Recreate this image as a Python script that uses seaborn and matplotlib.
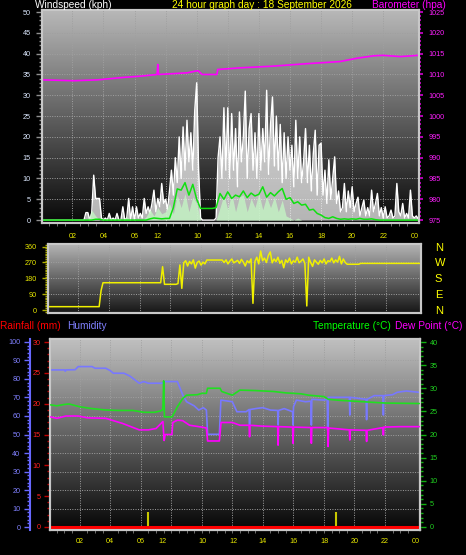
import numpy as np
import matplotlib
matplotlib.use("Agg")
import matplotlib.pyplot as plt
from matplotlib.colors import LinearSegmentedColormap
from matplotlib.ticker import MultipleLocator
import seaborn as sns

# time grids (hours): 7.5 min for the fast series, 15 min for the slower ones
t8 = np.arange(0, 24.26, 0.125)
t4 = np.arange(0, 24.26, 0.25)

# wind gust (kph), 8 readings per hour
gust = ([0, 0, 0, 0, 0, 0, 0, 0]
        + [0, 0, 0, 0, 0, 0, 0, 0]
        + [0, 0, 0, 0, 0, 0, 0, 1.8]
        + [1.8, 0, 1.8, 10.8, 5.2, 5.2, 5.2, 0.5]
        + [0, 0.5, 0, 1.6, 0, 0.5, 0, 1.6]
        + [0, 0, 3.2, 0, 0.5, 5.2, 0, 3.2]
        + [0, 3.2, 0.5, 1.6, 0.5, 5.2, 1.6, 3.2]
        + [1.6, 4.0, 7.2, 2.0, 5.2, 3.2, 8.8, 4.0]
        + [5.0, 2.5, 7.0, 12.0, 6.0, 15.0, 9.0, 20.0]
        + [10, 22.4, 12, 24, 14, 21, 12, 26.4]
        + [33, 12, 0.5, 0, 0, 0, 0, 0]
        + [0, 0, 0.5, 15, 20, 10, 27, 12]
        + [27, 10, 25.6, 12, 22, 8, 26, 14]
        + [20, 31, 10, 22, 25.6, 12, 21, 10]
        + [25.6, 12, 22, 14, 31.2, 11, 23, 29.6]
        + [13, 25, 12, 23, 9, 21, 10, 20]
        + [12, 18, 8, 24, 10, 20, 9, 14]
        + [22, 9, 18, 7, 16, 21.6, 6, 18]
        + [18.5, 6, 12, 4, 14.5, 5, 10, 15.2]
        + [4, 7, 2, 3, 8.8, 2, 7, 3]
        + [8, 2, 4, 5.5, 1, 3, 4.8, 1]
        + [3, 1, 7.2, 2, 4, 6.4, 1, 3]
        + [0.5, 3.2, 0.5, 1, 2.4, 0.5, 1, 8.8]
        + [2, 1, 4, 0.5, 1.6, 0.5, 7.2, 1]
        + [0.5, 1.0, 0.3])

# wind speed (kph), 4 readings per hour
speed = ([0] * 12
         + [0, 2.4, 1.0, 0]
         + [0, 0, 0, 0]
         + [0, 0, 0.8, 0]
         + [0, 0, 0, 0.8]
         + [2.5, 1.0, 3.0, 1.5]
         + [2.0, 4.0, 1.5, 6.0]
         + [3.0, 6.4, 2.0, 5.6]
         + [4.0, 0, 0, 0]
         + [0, 0, 3.0, 6.0]
         + [2.5, 6.4, 2.0, 5.6]
         + [6.0, 2.0, 5.2, 3.0]
         + [6.4, 2.5, 5.6, 3.0]
         + [5.6, 2.0, 4.8, 1.0]
         + [0.5, 0, 0.5, 0]
         + [0] * 28
         + [0, 0])

# average wind speed (kph), 4 readings per hour
avg_wind = ([0] * 12
            + [0, 0, 0.2, 0.2]
            + [0] * 12
            + [0.3, 0.5, 0.4, 0.3]
            + [0.4, 0.4, 3.0, 7.5]
            + [7.2, 9.0, 6.0, 8.6]
            + [5.0, 2.8, 2.8, 2.8]
            + [2.8, 3.0, 6.4, 5.0]
            + [6.8, 5.2, 6.0, 5.6]
            + [7.0, 5.4, 6.5, 5.8]
            + [6.2, 8.0, 5.5, 6.6]
            + [5.8, 6.8, 7.6, 5.0]
            + [5.4, 4.0, 4.4, 3.6]
            + [3.8, 2.4, 2.6, 1.6]
            + [1.2, 0.6, 0.4, 0.8]
            + [0.4, 0.2, 0.3, 0.2]
            + [0.3, 0.2, 0.4, 0.2]
            + [0.2, 0.3, 0.1, 0]
            + [0] * 8
            + [0, 0])

# barometer (hPa)
baro_hours = [0.15, 2.1, 3.6, 5.3, 6.4, 7.45, 7.5, 7.55, 9.4, 9.9, 10.1, 10.35,
              11.3, 11.35, 12.8, 14.9, 17.1, 19.2, 20.3, 21.4, 22.0, 23.1, 24.25]
baro = [1008.7, 1008.5, 1008.7, 1009.3, 1009.6, 1010.0, 1012.4, 1010.0, 1010.4,
        1010.8, 1010.9, 1010.0, 1010.0, 1011.2, 1011.6, 1012.0, 1012.6, 1013.1,
        1013.9, 1014.5, 1014.6, 1014.3, 1014.6]

# wind direction (degrees), 8 readings per hour
wind_dir = ([19] * 28 + [110, 155] + [155] * 30 + [246] + [146] * 7
            + [150, 256, 123]
            + [268, 280, 250, 276, 262, 285, 238, 270, 278, 255, 272, 262]
            + [284] * 9
            + [270, 285, 262, 278, 290, 268, 275, 282]
            + [265, 288, 272, 250, 280, 268, 290, 38]
            + [275, 300, 262, 335, 280, 295, 270, 310]
            + [330, 268, 290, 275, 300, 265, 282, 240]
            + [285, 270, 295, 262, 280, 272, 300, 268]
            + [278, 290, 265, 23, 300, 270, 248, 285]
            + [272, 260, 282, 268, 290, 262, 280, 275]
            + [295, 268, 285, 272, 305, 262, 290, 270]
            + [260] * 7 + [265] * 32)

# humidity (%)
hum_hours = [0.1, 1.0, 1.05, 1.1, 1.7, 1.9, 2.8, 3.0, 3.7, 4.0,
             4.2, 4.9, 5.3, 5.9, 6.2, 6.5, 7.45, 7.5, 8.4, 8.75,
             9.0, 9.5, 9.8, 10.1, 10.3, 10.38, 11.15, 11.25, 12.0, 12.3,
             12.9, 13.1, 13.13, 13.16, 13.6, 14.0, 14.5, 14.97, 15.0, 15.03,
             15.4, 15.95, 15.98, 16.01, 16.2, 16.8, 17.15, 17.18, 17.21, 18.0,
             18.22, 18.25, 18.28, 19.2, 19.67, 19.7, 19.73, 20.3, 20.77, 20.8,
             20.83, 21.3, 21.87, 21.9, 21.93, 22.5, 22.8, 23.4, 24.25]
humidity = [84.9, 84.9, 84.2, 84.9, 85.0, 86.7, 86.7, 85.8, 85.8, 84.5,
            83.1, 83.1, 81.5, 77.7, 78.6, 77.7, 77.7, 78.6, 78.6, 71.4,
            67.7, 65.5, 63.2, 64.5, 63.2, 50.1, 50.1, 68.6, 67.7, 62.3,
            62.3, 63.5, 55.1, 63.5, 64.1, 64.5, 63.2, 63.0, 55.1, 63.0,
            64.0, 62.3, 55.1, 65.0, 68.6, 67.7, 68.0, 55.1, 69.0, 68.6,
            69.0, 52.4, 70.1, 70.1, 70.1, 60.5, 70.1, 69.5, 69.0, 58.0,
            69.0, 71.0, 71.0, 60.5, 71.0, 71.5, 72.8, 73.5, 72.8]

# temperature (C)
temp_hours = [0.1, 0.5, 1.0, 1.3, 2.0, 2.8, 3.7, 4.5, 5.5, 6.2,
              6.9, 7.3, 7.45, 7.5, 7.55, 8.05, 8.4, 8.75, 9.0, 9.7,
              10.0, 10.3, 10.38, 11.2, 11.3, 12.0, 12.5, 13.5, 14.7, 15.5,
              16.5, 17.0, 18.0, 18.3, 19.0, 20.0, 21.0, 22.0, 24.25]
temperature = [26.4, 26.2, 26.5, 26.6, 26.0, 25.6, 25.3, 25.2, 25.2, 24.8,
               24.8, 25.1, 25.4, 31.6, 23.8, 23.8, 26.0, 27.8, 28.5, 28.6,
               28.9, 28.9, 30.0, 30.0, 29.3, 28.5, 29.6, 29.5, 29.3, 29.0,
               28.8, 28.5, 28.2, 27.6, 27.4, 27.2, 27.0, 26.8, 26.7]

# dew point (C)
dew_hours = [0.1, 0.5, 1.1, 1.9, 2.5, 3.7, 4.8, 5.9, 6.5, 7.0,
             7.45, 7.53, 7.6, 8.04, 8.1, 8.4, 8.74, 9.2, 10.0, 10.3,
             10.38, 11.15, 11.26, 12.0, 12.5, 13.1, 13.13, 13.16, 14.0, 14.97,
             15.0, 15.03, 15.95, 15.98, 16.01, 17.15, 17.18, 17.21, 18.25, 18.28,
             18.31, 19.0, 19.67, 19.7, 19.73, 20.77, 20.8, 20.83, 21.87, 21.9,
             21.93, 23.0, 24.25]
dewpoint = [23.8, 23.5, 24.0, 24.0, 23.6, 23.5, 22.4, 21.0, 21.0, 21.3,
            22.8, 18.7, 20.0, 20.0, 22.6, 23.1, 23.0, 22.0, 21.6, 21.4,
            18.6, 18.6, 22.6, 22.6, 22.0, 22.0, 19.5, 22.0, 21.8, 21.7,
            17.7, 21.7, 21.6, 18.1, 21.6, 21.5, 18.1, 21.5, 21.5, 17.4,
            21.4, 21.2, 21.0, 18.8, 21.0, 20.9, 18.5, 20.9, 21.5, 19.9,
            21.6, 21.7, 21.7]

# rainfall (mm) and rain rate bars
rain_hours = [0.0, 24.25]
rain_mm = [0.0, 0.0]
rate_hours = [6.48, 18.8]
rain_rate = [2.4, 2.4]

x_label_pos = [2, 4, 6, 7.45, 10.05, 12.05, 14, 16, 18.05, 20, 22, 24]
x_labels = ['02', '04', '06', '12', '10', '12', '14', '16', '18', '20', '22', '00']
grid_hours = [2, 4, 6, 8, 10, 12, 14, 16, 18, 20, 22]

sns.set_style("dark", {"axes.facecolor": "black", "figure.facecolor": "black"})
plt.rcParams['font.family'] = ['Liberation Sans', 'DejaVu Sans']

W, H = 466, 555
fig = plt.figure(figsize=(W / 100, H / 100), dpi=100, facecolor='black')


def panel(l, t, r, b):
    return fig.add_axes([l / W, 1 - b / H, (r - l) / W, (b - t) / H])


def dress(ax, top_col, bottom_col, ygrid):
    cmap = LinearSegmentedColormap.from_list('shade', [bottom_col, top_col])
    grad = np.linspace(0, 1, 256).reshape(-1, 1)
    ax.imshow(grad, extent=[0, 1, 0, 1], transform=ax.transAxes, origin='lower',
              aspect='auto', cmap=cmap, zorder=0)
    for s in ax.spines.values():
        s.set_color('#c8c8c8')
        s.set_linewidth(1.5)
    for h in grid_hours:
        ax.axvline(h, color='#a0a0a0', ls=(0, (1, 1.5)), lw=0.7, zorder=1)
    for y in ygrid:
        ax.axhline(y, color='#a0a0a0', ls=(0, (1, 1.5)), lw=0.7, zorder=1)


def light_spines(ax):
    for s in ax.spines.values():
        s.set_color('#c8c8c8')
        s.set_linewidth(1.5)


XLIM = (0.05, 24.3)

# ---------------- top panel: wind + barometer ----------------
ax = panel(42, 10, 419, 223)
dress(ax, '#b8b8b8', '#080808', range(5, 50, 5))
ax.fill_between(t8, gust, color='white', alpha=0.7, lw=0, zorder=2)
sns.lineplot(x=t8, y=gust, ax=ax, color='white', linewidth=1.0, zorder=3)
ax.fill_between(t4, speed, color='#c4f5c4', alpha=0.8, lw=0, zorder=4)
sns.lineplot(x=t4, y=avg_wind, ax=ax, color='#10e010', linewidth=1.1, zorder=5)
ax.set_xlim(*XLIM)
ax.set_ylim(-0.7, 50.5)
ax.set_xlabel('')
ax.set_ylabel('')
ax.yaxis.set_major_locator(MultipleLocator(5))
ax.yaxis.set_minor_locator(MultipleLocator(1))
ax.tick_params(axis='y', which='both', left=True, colors='#909090',
               labelcolor='#dce8ff', labelsize=5.2, pad=4)
ax.tick_params(axis='y', which='major', length=4, width=1)
ax.tick_params(axis='y', which='minor', length=2, width=1)
ax.set_xticks(x_label_pos)
ax.set_xticklabels(x_labels)
ax.xaxis.set_minor_locator(MultipleLocator(0.5))
ax.tick_params(axis='x', which='major', bottom=True, length=0, pad=7.5,
               labelcolor='#e8e800', labelsize=5.2)
ax.tick_params(axis='x', which='minor', bottom=True, length=2, color='#808080')

axb = ax.twinx()
light_spines(axb)
sns.lineplot(x=baro_hours, y=baro, ax=axb, color='#ff00ff', linewidth=1.2)
axb.set_ylim(974.3, 1025.5)
axb.set_xlim(*XLIM)
axb.set_ylabel('')
axb.yaxis.set_major_locator(MultipleLocator(5))
axb.yaxis.set_minor_locator(MultipleLocator(1))
axb.tick_params(axis='y', which='both', right=True, colors='#d000d0',
                labelcolor='#ff20ff', labelsize=5.2, pad=4)
axb.tick_params(axis='y', which='major', length=3, width=1.2)
axb.tick_params(axis='y', which='minor', length=1.5, width=1.2)

fig.text(35 / W, 1 - 5 / H, 'Windspeed (kph)', color='white', fontsize=7.3, va='center')
fig.text(172 / W, 1 - 5 / H, '24 hour graph day : 18 September 2026', color='#ffff00',
         fontsize=7.3, va='center')
fig.text(372 / W, 1 - 5 / H, 'Barometer (hpa)', color='#ff00ff', fontsize=7.3, va='center')

# ---------------- middle panel: wind direction ----------------
am = panel(48, 244, 421, 313)
dress(am, '#b4b4b4', '#161616', [90, 180, 270])
sns.lineplot(x=t8, y=wind_dir, ax=am, color='#f0f000', linewidth=1.1, zorder=3)
am.set_xlim(*XLIM)
am.set_ylim(-17, 375)
am.set_xlabel('')
am.set_ylabel('')
am.set_xticks([])
am.set_yticks([0, 90, 180, 270, 360])
am.yaxis.set_minor_locator(MultipleLocator(10))
am.tick_params(axis='y', which='both', left=True, colors='#b0b000',
               labelcolor='#e8e800', labelsize=5.2, pad=4)
am.tick_params(axis='y', which='major', length=4, width=1)
am.tick_params(axis='y', which='minor', length=2, width=1)

amr = am.twinx()
light_spines(amr)
amr.set_ylim(-17, 375)
amr.set_yticks([0, 90, 180, 270, 360])
amr.set_yticklabels(['N', 'E', 'S', 'W', 'N'])
amr.tick_params(axis='y', right=True, length=0, pad=10, labelcolor='#ffff00', labelsize=8)

# ---------------- bottom panel: temperature, humidity, rain ----------------
ah = panel(50, 339, 420, 530)
dress(ah, '#c0c0c0', '#060606', range(10, 100, 10))
sns.lineplot(x=hum_hours, y=humidity, ax=ah, color='#7878ff', linewidth=1.2, zorder=3)
ah.set_xlim(*XLIM)
ah.set_ylim(-1.6, 101.6)
ah.set_xlabel('')
ah.set_ylabel('')
ah.spines['left'].set_position(('outward', 14.4))
ah.spines['left'].set_color('#6868ff')
ah.spines['left'].set_linewidth(1.5)
ah.yaxis.set_major_locator(MultipleLocator(10))
ah.yaxis.set_minor_locator(MultipleLocator(2))
ah.tick_params(axis='y', which='both', left=True, colors='#6868ff',
               labelcolor='#8080ff', labelsize=5.2, pad=3)
ah.tick_params(axis='y', which='major', length=4, width=1)
ah.tick_params(axis='y', which='minor', length=2, width=1)
ah.set_xticks(x_label_pos)
ah.set_xticklabels(x_labels)
ah.xaxis.set_minor_locator(MultipleLocator(0.5))
ah.tick_params(axis='x', which='major', bottom=True, length=0, pad=6,
               labelcolor='#e8e800', labelsize=5.2)
ah.tick_params(axis='x', which='minor', bottom=True, length=2, color='#808080')

ar = ah.twinx()
light_spines(ar)
ar.yaxis.tick_left()
ar.vlines(rate_hours, 0, rain_rate, color='#c8c800', linewidth=1.5, zorder=3)
sns.lineplot(x=rain_hours, y=rain_mm, ax=ar, color='#ff0000', linewidth=2.2, zorder=4)
ar.set_ylim(-0.49, 30.49)
ar.set_xlim(*XLIM)
ar.set_ylabel('')
ar.yaxis.set_major_locator(MultipleLocator(5))
ar.yaxis.set_minor_locator(MultipleLocator(1))
ar.tick_params(axis='y', which='both', left=True, right=False, colors='#c00000',
               labelcolor='#ff2020', labelsize=5.2, pad=3)
ar.tick_params(axis='y', which='major', length=4, width=1)
ar.tick_params(axis='y', which='minor', length=2, width=1)

at = ah.twinx()
light_spines(at)
sns.lineplot(x=temp_hours, y=temperature, ax=at, color='#20e020', linewidth=1.2, zorder=3)
sns.lineplot(x=dew_hours, y=dewpoint, ax=at, color='#ff00ff', linewidth=1.2, zorder=3)
at.set_ylim(-0.65, 40.65)
at.set_xlim(*XLIM)
at.set_ylabel('')
at.yaxis.set_major_locator(MultipleLocator(5))
at.yaxis.set_minor_locator(MultipleLocator(1))
at.tick_params(axis='y', which='both', right=True, colors='#10b010',
               labelcolor='#20d020', labelsize=5.2, pad=3)
at.tick_params(axis='y', which='major', length=4, width=1)
at.tick_params(axis='y', which='minor', length=2, width=1)

fig.text(0 / W, 1 - 326 / H, 'Rainfall (mm)', color='#ff0000', fontsize=7.3, va='center')
fig.text(67 / W, 1 - 326 / H, 'Humidity', color='#8080ff', fontsize=7.3, va='center')
fig.text(313 / W, 1 - 326 / H, 'Temperature (\u00b0C)', color='#00ff00', fontsize=7.3, va='center')
fig.text(395 / W, 1 - 326 / H, 'Dew Point (\u00b0C)', color='#ff00ff', fontsize=7.3, va='center')

fig.savefig('out.png', dpi=100, facecolor='black')
